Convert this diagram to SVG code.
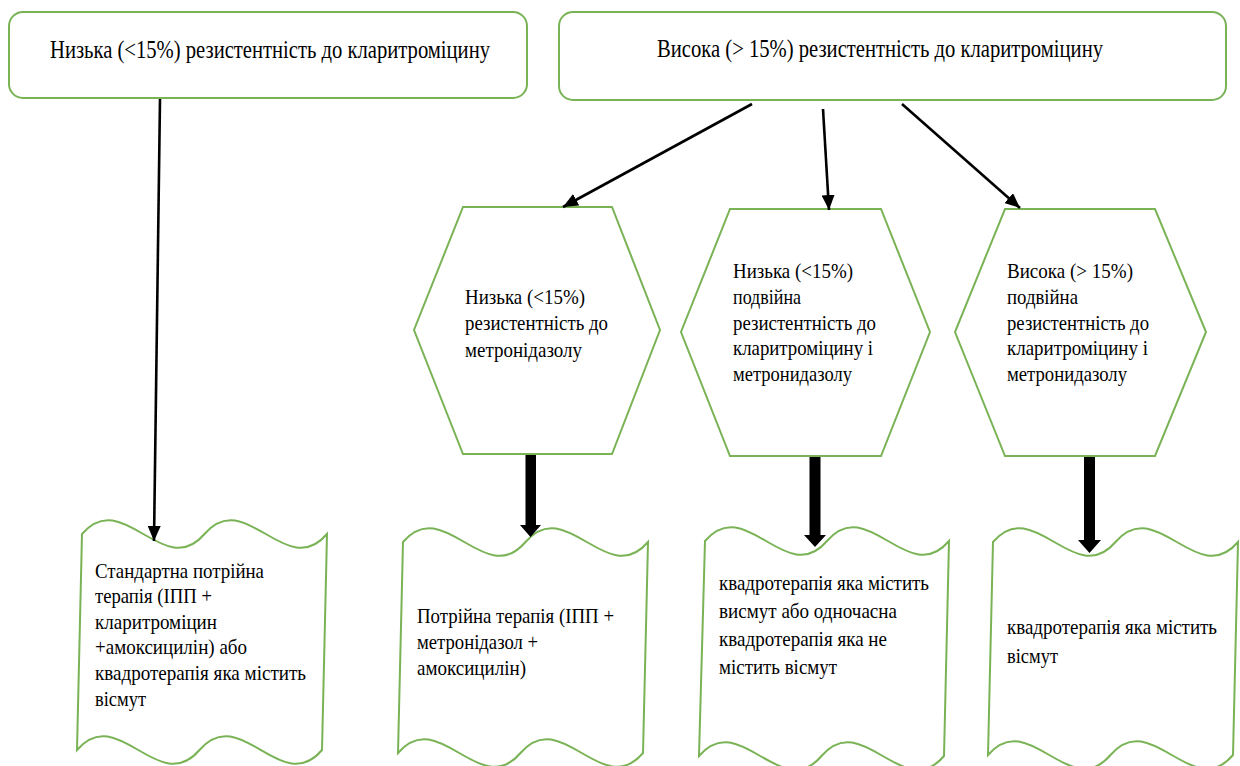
<svg xmlns="http://www.w3.org/2000/svg" width="1240" height="766" viewBox="0 0 1240 766">
<style>
.box{fill:#fff;stroke:#7ab356;stroke-width:2}
text{font-family:'Liberation Serif','Times New Roman','DejaVu Serif',serif;fill:#000}
.big{font-size:25px}
.sm{font-size:21px}
.ln{stroke:#000;stroke-width:2.6;fill:none}
.thick{fill:#000}
</style>
<defs>
<marker id="ah" markerUnits="userSpaceOnUse" markerWidth="16" markerHeight="13" refX="15" refY="6.5" orient="auto">
<path d="M0,0 L15,6.5 L0,13 z" fill="#000"/>
</marker>
</defs>
<rect width="1240" height="766" fill="#fff"/>

<g id="low-clar">
<rect class="box" x="9" y="12" width="518" height="86" rx="14"/>
<text class="big" font-family="Liberation Serif, serif" x="50" y="58" textLength="440" lengthAdjust="spacingAndGlyphs">Низька (&lt;15%) резистентність до кларитроміцину</text>
</g>

<g id="high-clar">
<rect class="box" x="559" y="12" width="667" height="88" rx="14"/>
<text class="big" font-family="Liberation Serif, serif" x="657" y="57" textLength="446" lengthAdjust="spacingAndGlyphs">Висока (&gt; 15%) резистентність до кларитроміцину</text>
</g>

<g id="hex-low-metro">
<polygon class="box" points="463,207 612,207 660,330 612,454 463,454 414,330"/>
<text class="sm" font-family="Liberation Serif, serif"><tspan x="465" y="304" textLength="120" lengthAdjust="spacingAndGlyphs">Низька (&lt;15%)</tspan><tspan x="465" y="330" textLength="143" lengthAdjust="spacingAndGlyphs">резистентність до</tspan><tspan x="465" y="357" textLength="117" lengthAdjust="spacingAndGlyphs">метронідазолу</tspan></text>
</g>

<g id="hex-low-dual">
<polygon class="box" points="730,209 881,209 930,332 881,456 730,456 681,332"/>
<text class="sm" font-family="Liberation Serif, serif"><tspan x="733" y="278" textLength="120" lengthAdjust="spacingAndGlyphs">Низька (&lt;15%)</tspan><tspan x="733" y="304" textLength="68" lengthAdjust="spacingAndGlyphs">подвійна</tspan><tspan x="733" y="330" textLength="143" lengthAdjust="spacingAndGlyphs">резистентність до</tspan><tspan x="733" y="355" textLength="140" lengthAdjust="spacingAndGlyphs">кларитроміцину і</tspan><tspan x="733" y="381" textLength="119" lengthAdjust="spacingAndGlyphs">метронидазолу</tspan></text>
</g>

<g id="hex-high-dual">
<polygon class="box" points="1005,209 1155,209 1206,332 1155,456 1005,456 955,332"/>
<text class="sm" font-family="Liberation Serif, serif"><tspan x="1007" y="278" textLength="126" lengthAdjust="spacingAndGlyphs">Висока (&gt; 15%)</tspan><tspan x="1007" y="304" textLength="71" lengthAdjust="spacingAndGlyphs">подвійна</tspan><tspan x="1007" y="330" textLength="142" lengthAdjust="spacingAndGlyphs">резистентність до</tspan><tspan x="1007" y="355" textLength="141" lengthAdjust="spacingAndGlyphs">кларитроміцину і</tspan><tspan x="1007" y="381" textLength="120" lengthAdjust="spacingAndGlyphs">метронидазолу</tspan></text>
</g>

<g id="doc-standard">
<path class="box" d="M82,534 C122.8,486 163.7,582 204.5,534 C245.3,486 286.2,582 327,534 L322,750 C281.5,798 240.5,702 199.5,750 C158.5,798 118,702 77,750 Z"/>
<text class="sm" font-family="Liberation Serif, serif"><tspan x="95" y="578" textLength="169" lengthAdjust="spacingAndGlyphs">Стандартна потрійна</tspan><tspan x="95" y="603" textLength="117" lengthAdjust="spacingAndGlyphs">терапія (ІПП +</tspan><tspan x="95" y="629" textLength="122" lengthAdjust="spacingAndGlyphs">кларитроміцин</tspan><tspan x="95" y="654" textLength="152" lengthAdjust="spacingAndGlyphs">+амоксицилін) або</tspan><tspan x="95" y="680" textLength="211" lengthAdjust="spacingAndGlyphs">квадротерапія яка містить</tspan><tspan x="95" y="706" textLength="51" lengthAdjust="spacingAndGlyphs">вісмут</tspan></text>
</g>

<g id="doc-triple-metro">
<path class="box" d="M403,542 C443.8,494 484.7,590 525.5,542 C566.3,494 607.2,590 648,542 L643,753 C602.2,801 561.3,705 520.5,753 C479.7,801 438.8,705 398,753 Z"/>
<text class="sm" font-family="Liberation Serif, serif"><tspan x="417" y="623" textLength="197" lengthAdjust="spacingAndGlyphs">Потрійна терапія (ІПП +</tspan><tspan x="417" y="649" textLength="121" lengthAdjust="spacingAndGlyphs">метронідазол +</tspan><tspan x="417" y="675" textLength="109" lengthAdjust="spacingAndGlyphs">амоксицилін)</tspan></text>
</g>

<g id="doc-quad-either">
<path class="box" d="M705,541 C745.7,493 786.3,589 827,541 C867.7,493 908.3,589 949,541 L944,756 C903.2,804 862.3,708 821.5,756 C780.7,804 739.8,708 699,756 Z"/>
<text class="sm" font-family="Liberation Serif, serif"><tspan x="719" y="590" textLength="210" lengthAdjust="spacingAndGlyphs">квадротерапія яка містить</tspan><tspan x="719" y="618" textLength="178" lengthAdjust="spacingAndGlyphs">висмут або одночасна</tspan><tspan x="719" y="646" textLength="168" lengthAdjust="spacingAndGlyphs">квадротерапія яка не</tspan><tspan x="719" y="674" textLength="118" lengthAdjust="spacingAndGlyphs">містить вісмут</tspan></text>
</g>

<g id="doc-quad-bismuth">
<path class="box" d="M993,542 C1033.8,494 1074.7,590 1115.5,542 C1156.3,494 1197.2,590 1238,542 L1233,755 C1192.2,803 1151.3,707 1110.5,755 C1069.7,803 1028.8,707 988,755 Z"/>
<text class="sm" font-family="Liberation Serif, serif"><tspan x="1007" y="634" textLength="210" lengthAdjust="spacingAndGlyphs">квадротерапія яка містить</tspan><tspan x="1007" y="663" textLength="51" lengthAdjust="spacingAndGlyphs">вісмут</tspan></text>
</g>

<g id="connectors">
<line class="ln" x1="160" y1="99" x2="154" y2="541" marker-end="url(#ah)"/>
<line class="ln" x1="752" y1="104" x2="563" y2="207" marker-end="url(#ah)"/>
<line class="ln" x1="823" y1="109" x2="829" y2="210" marker-end="url(#ah)"/>
<line class="ln" x1="902" y1="104" x2="1020" y2="208" marker-end="url(#ah)"/>
<polygon class="thick" points="525.5,455 536,455 536,525 541,525 530.5,537 520,525 525.5,525"/>
<polygon class="thick" points="809.5,457 820.5,457 820.5,535 826,535 815,547 804,535 809.5,535"/>
<polygon class="thick" points="1084,457 1095,457 1095,540 1101,540 1089.5,553 1078,540 1084,540"/>
</g>
</svg>
